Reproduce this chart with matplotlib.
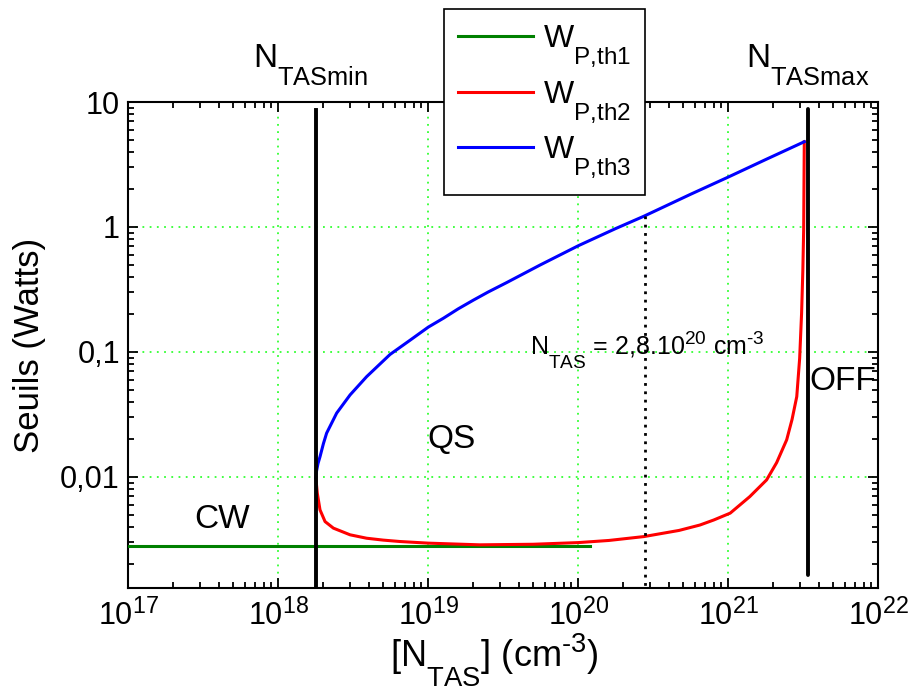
import numpy as np
import matplotlib
matplotlib.use("Agg")
import matplotlib.pyplot as plt
from matplotlib import _mathtext
from matplotlib.ticker import FixedLocator, FixedFormatter, LogLocator, LogFormatterMathtext, NullFormatter

plt.rcParams['font.family'] = ['Liberation Sans', 'DejaVu Sans']
plt.rcParams['mathtext.fontset'] = 'custom'
plt.rcParams['mathtext.rm'] = 'Liberation Sans'
plt.rcParams['mathtext.it'] = 'Liberation Sans'
plt.rcParams['mathtext.bf'] = 'Liberation Sans'
plt.rcParams['mathtext.default'] = 'regular'
# indices plus gros et plus bas, comme sur l'original
_mathtext.FontConstantsBase.sub1 = 1.0
_mathtext.SHRINK_FACTOR = 0.76

# ---- données ----
N_TAS_MIN = 1.78e18
N_TAS_MAX = 3.42e21
N_TAS_REF = 2.8e20

# W_P,th1 (seuil CW, constant)
n_th1 = [1e17, 1.2e20]
w_th1 = [0.0028, 0.0028]

# W_P,th2 (branche basse)
n_th2 = [1.78e18, 1.82e18, 1.897e18, 2.05e18, 2.33e18, 3.01e18, 3.88e18, 5.0e18,
         6.47e18, 1.0e19, 2.2e19, 5.0e19, 1.0e20, 1.6e20, 2.74e20, 4.7e20,
         6.47e20, 8.0e20, 1.03e21, 1.39e21, 1.80e21, 2.1e21, 2.45e21, 2.66e21,
         2.86e21, 2.99e21, 3.08e21, 3.14e21, 3.18e21, 3.21e21]
w_th2 = [0.0098, 0.0074, 0.00545, 0.00439, 0.00389, 0.00344, 0.00323, 0.00312,
         0.00304, 0.00295, 0.00286, 0.00289, 0.00298, 0.00310, 0.00333, 0.00373,
         0.00412, 0.00452, 0.00513, 0.00695, 0.00946, 0.0130, 0.0198, 0.0288,
         0.0439, 0.089, 0.204, 0.45, 0.946, 4.81]

# W_P,th3 (branche haute)
n_th3 = [1.78e18, 1.80e18, 1.84e18, 1.897e18, 2.0e18, 2.10e18, 2.45e18, 3.01e18,
         3.88e18, 5.56e18, 7.55e18, 1.0e19, 1.26e19, 1.58e19, 2.0e19, 2.51e19,
         3.33e19, 5.56e19, 1.0e20, 1.78e20, 2.74e20, 5.62e20, 1.0e21, 1.78e21,
         3.21e21]
w_th3 = [0.0098, 0.0112, 0.0128, 0.0145, 0.0185, 0.0224, 0.0324, 0.0453,
         0.0634, 0.0955, 0.124, 0.158, 0.186, 0.221, 0.260, 0.302,
         0.359, 0.496, 0.708, 0.973, 1.22, 1.83, 2.51, 3.47,
         4.81]

y_ticks = [0.01, 0.1, 1, 10]
y_labels = ['0,01', '0,1', '1', '10']

# ---- figure ----
fig = plt.figure(figsize=(9.15, 6.88), dpi=100)
ax = fig.add_axes([0.1402, 0.1453, 0.8197, 0.7064])

grid_kw = dict(color='#33ff33', linestyle=(0, (1, 3)), linewidth=1.3, zorder=1)
ax.set_xscale('log')
ax.set_yscale('log')
ax.set_xlim(1e17, 1e22)
ax.set_ylim(0.00129, 10)

l1, = ax.plot(n_th1, w_th1, color='#008000', lw=2.2, zorder=3)
l2, = ax.plot(n_th2, w_th2, color='#ff0000', lw=2.2, zorder=4)
l3, = ax.plot(n_th3, w_th3, color='#0000ff', lw=2.2, zorder=5)

ax.plot([N_TAS_MIN, N_TAS_MIN], [1e-3, 8.6], color='black', lw=2.8, zorder=6)
ax.plot([N_TAS_MAX, N_TAS_MAX], [0.00165, 8.8], color='black', lw=2.8,
        solid_capstyle='round', zorder=6)
ax.plot([N_TAS_REF, N_TAS_REF], [1e-3, 1.24], color='black', lw=2,
        linestyle=(0, (1, 2)), zorder=6)

ax.grid(True, which='major', **grid_kw)
ax.set_axisbelow(True)

ax.xaxis.set_major_locator(LogLocator(base=10, numticks=10))
ax.xaxis.set_major_formatter(LogFormatterMathtext())
ax.xaxis.set_minor_locator(LogLocator(base=10, subs=np.arange(2, 10), numticks=20))
ax.xaxis.set_minor_formatter(NullFormatter())
ax.yaxis.set_major_locator(FixedLocator(y_ticks))
ax.yaxis.set_major_formatter(FixedFormatter(y_labels))
ax.yaxis.set_minor_locator(LogLocator(base=10, subs=np.arange(2, 10), numticks=20))
ax.yaxis.set_minor_formatter(NullFormatter())

ax.tick_params(which='both', direction='in', top=True, right=True, width=1.3)
ax.tick_params(which='major', length=7, labelsize=22)
ax.tick_params(axis='x', which='major', pad=8)
ax.tick_params(axis='y', which='major', pad=6)
ax.tick_params(which='minor', length=4)
for s in ax.spines.values():
    s.set_linewidth(1.5)

ax.set_xlabel('[N$_{TAS}$] (cm$^{\u20103}$)', fontsize=26, va='bottom')
ax.xaxis.set_label_coords(0.4876, -0.2075)
ax.set_ylabel('Seuils (Watts)', fontsize=25, labelpad=10)

ax.text(0.166, 1.072, 'N$_{TASmin}$', transform=ax.transAxes, fontsize=24,
        va='baseline', ha='left')
ax.text(0.824, 1.072, 'N$_{TASmax}$', transform=ax.transAxes, fontsize=24,
        va='baseline', ha='left')
ax.text(0.125, 0.140, 'CW', transform=ax.transAxes, fontsize=24,
        va='center', ha='center', zorder=7)
ax.text(0.431, 0.305, 'QS', transform=ax.transAxes, fontsize=24,
        va='center', ha='center', zorder=7)
ax.text(0.908, 0.424, 'OFF', transform=ax.transAxes, fontsize=24,
        va='center', ha='left', zorder=7)
ax.text(0.536, 0.479, 'N$_{TAS}$ = 2,8.10$^{20}$ cm$^{\u20103}$', transform=ax.transAxes,
        fontsize=18, va='baseline', ha='left', zorder=7)

leg = fig.legend([l1, l2, l3], ['W$_{P{,}th1}$', 'W$_{P{,}th2}$', 'W$_{P{,}th3}$'],
                 loc='upper left', bbox_to_anchor=(0.485, 0.987), borderaxespad=0,
                 fontsize=23, handlelength=2.35, handletextpad=0.3, borderpad=0.45,
                 labelspacing=0.3, fancybox=False, framealpha=1, edgecolor='black')
leg.get_frame().set_linewidth(1.2)
for h in leg.get_lines():
    h.set_linewidth(2.2)

fig.savefig('out.png', dpi=100)
